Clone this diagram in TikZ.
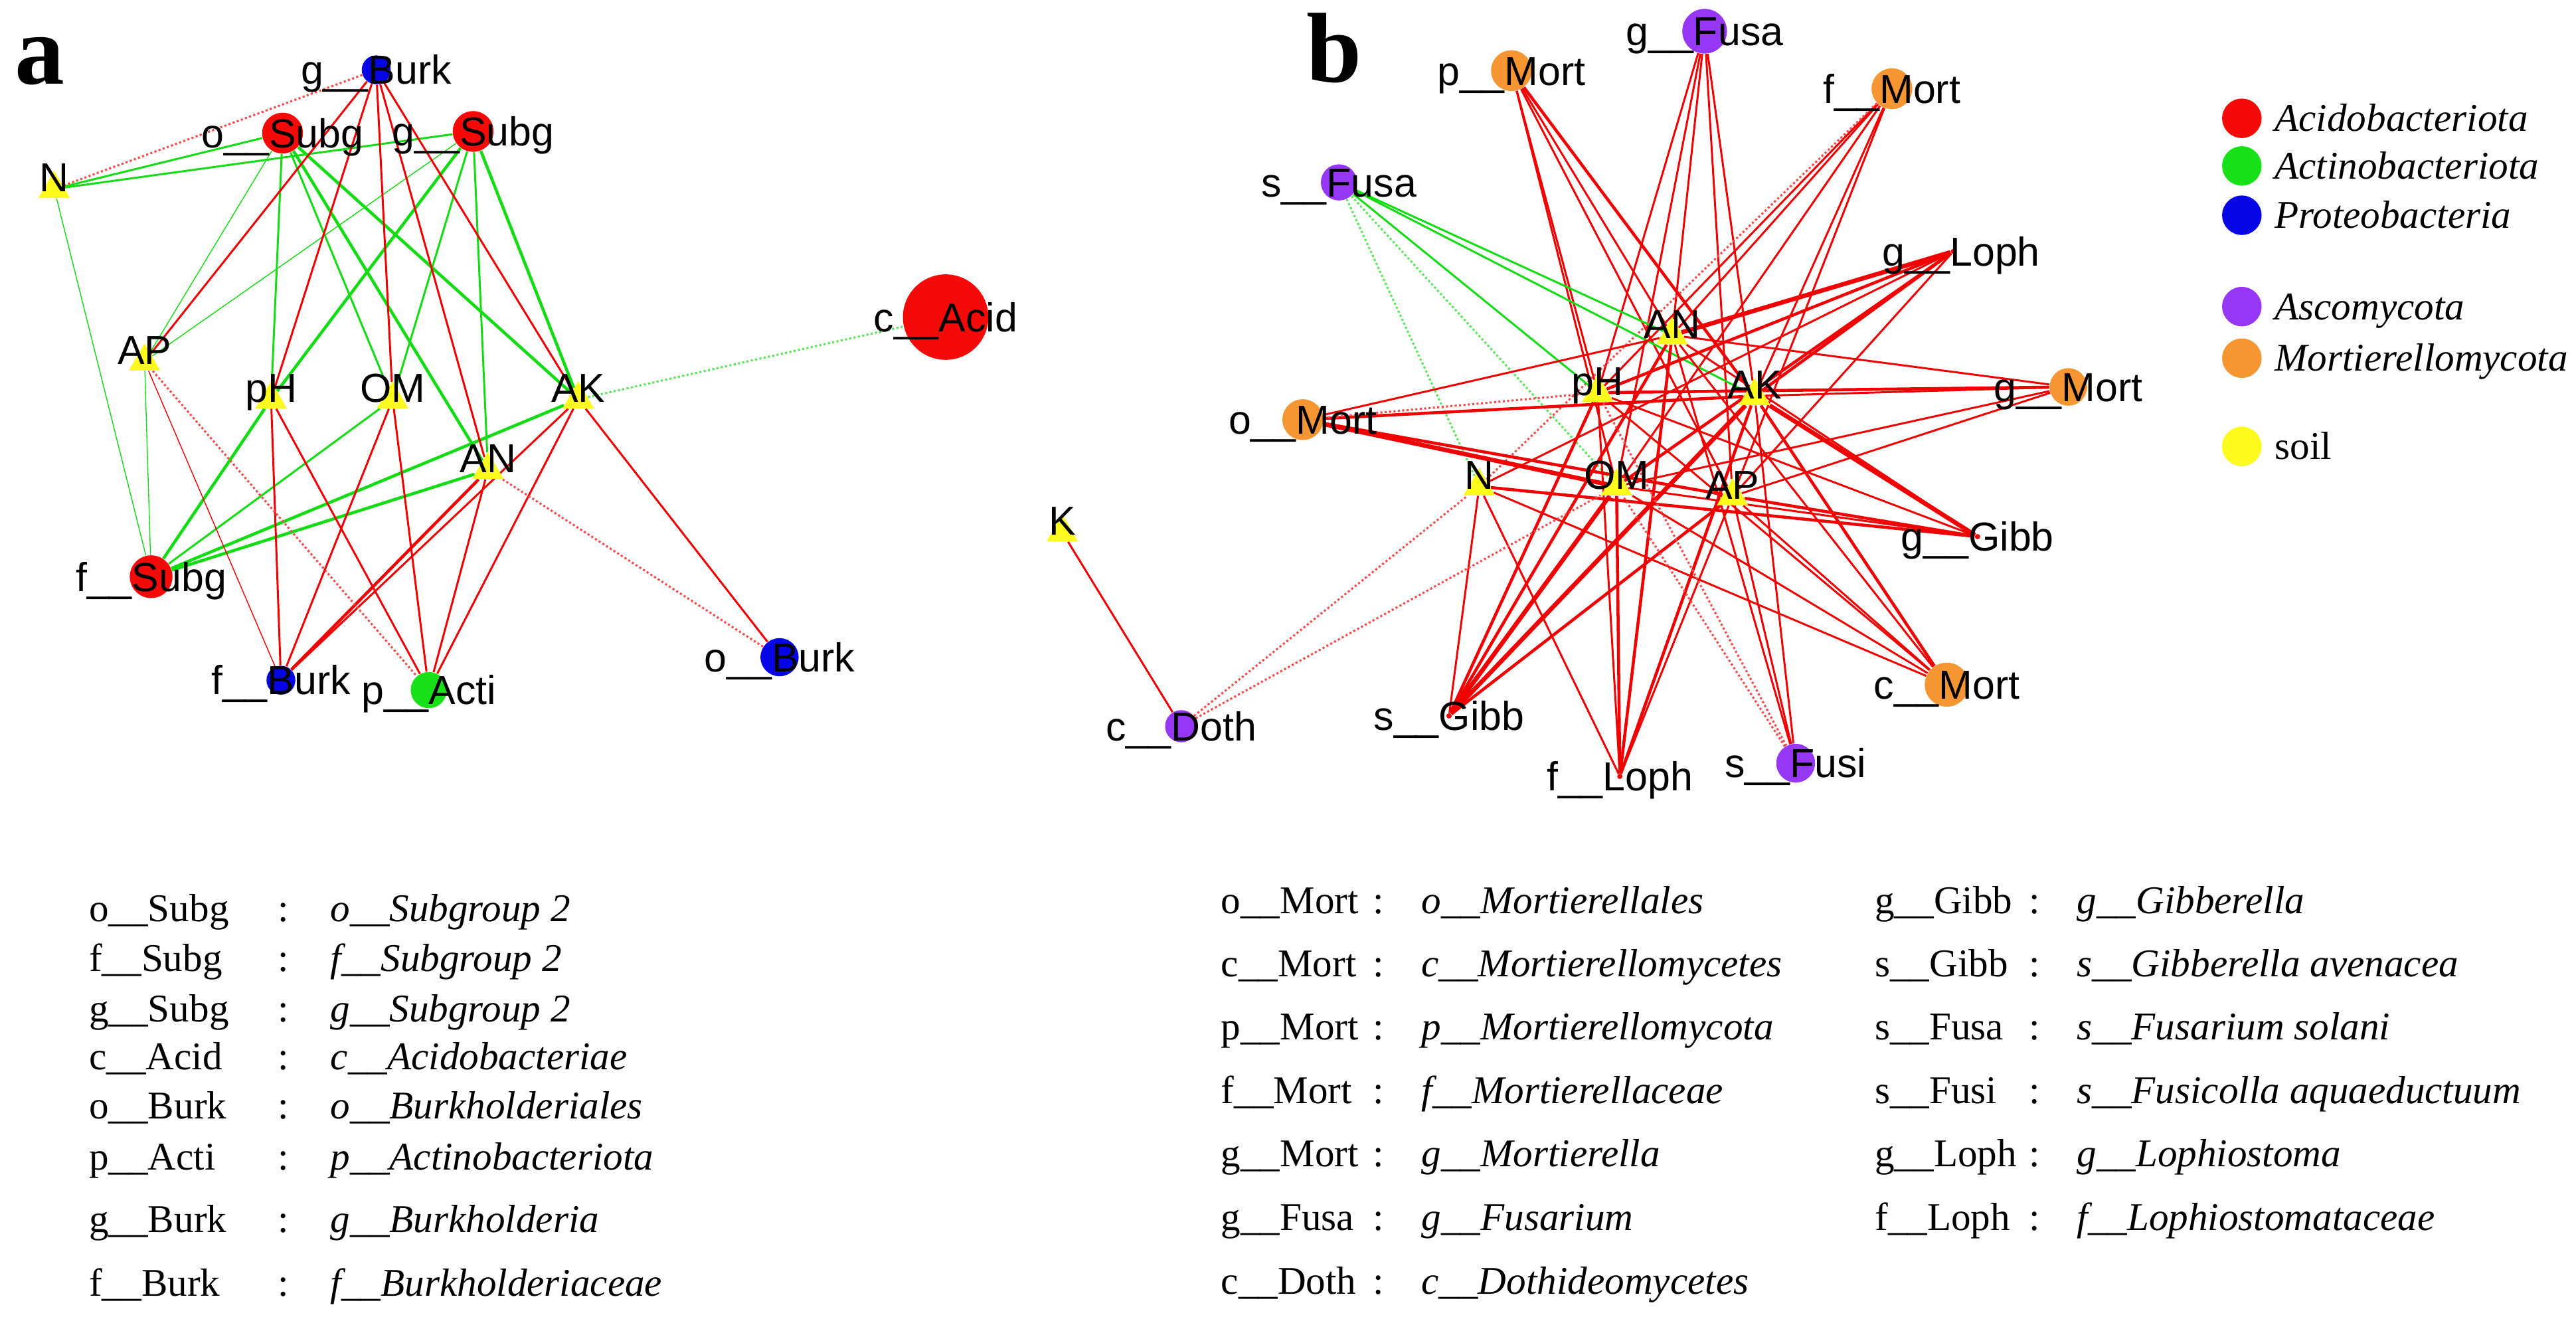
\documentclass[tikz,border=0pt]{standalone}
\usepackage{fontspec}
\setmainfont{Liberation Serif}
\setsansfont{Liberation Sans}
\usetikzlibrary{shapes.geometric}
\definecolor{acido}{RGB}{245,10,10}
\definecolor{actino}{RGB}{25,225,25}
\definecolor{proteo}{RGB}{5,5,230}
\definecolor{asco}{RGB}{150,55,245}
\definecolor{mortie}{RGB}{245,150,50}
\definecolor{soilyel}{RGB}{255,250,30}
\definecolor{edgered}{RGB}{240,0,0}
\definecolor{edgegreen}{RGB}{20,220,20}
\pgfdeclarelayer{bg}
\pgfsetlayers{bg,main}
\tikzstyle{lbl} = [font=\sffamily\fontsize{17.5}{17.5}\selectfont,
text height=12.5pt,
text depth=0pt,
inner sep=0pt]
\tikzstyle{taxon} = [circle, 
inner sep=0pt, 
draw=none]
\tikzstyle{tiny} = [circle, inner sep=0pt, minimum size=0.08cm, fill=edgered]
\tikzstyle{soilnode} = [regular polygon, 
regular polygon sides=3, 
inner sep=0pt, 
minimum size=0.55cm, 
fill=soilyel]
\tikzstyle{redlink} = [draw=edgered, line width=0.85pt]
\tikzstyle{greenlink} = [draw=edgegreen, line width=0.85pt]
\tikzstyle{reddot} = [draw=edgered!70, line width=0.9pt, densely dotted]
\tikzstyle{greendot} = [draw=edgegreen!70, line width=0.9pt, densely dotted]
\tikzstyle{heavy} = [line width=1.3pt]
\tikzstyle{heavier} = [line width=1.9pt]
\tikzstyle{keyname} = [anchor=base west, inner sep=0pt, font=\fontsize{17}{17}\selectfont]
\tikzstyle{keycolon} = [anchor=base, inner sep=0pt, font=\fontsize{17}{17}\selectfont]
\tikzstyle{keyfull} = [anchor=base west, inner sep=0pt, font=\itshape\fontsize{17}{17}\selectfont]
\tikzstyle{legdot} = [circle, inner sep=0pt, minimum size=0.6cm]
\tikzstyle{legtxt} = [anchor=west, inner sep=0pt, text height=11.3pt, text depth=0pt,
font=\itshape\fontsize{17}{17}\selectfont]
\tikzstyle{panel} = [anchor=base west, inner sep=0pt, font=\bfseries\fontsize{43}{43}\selectfont]

\begin{document}
\begin{tikzpicture} [x=0.025cm, y=-0.025cm]
		\useasboundingbox (0,0) rectangle (1568,804);
		\node (pa) [panel] at (9,51) {a};
		\node (pb) [panel] at (795,50) {b};

		% panel a
		\node (gBurk) [taxon, fill=proteo, minimum size=0.44cm, label={[lbl]center:g\_\_Burk}] at (229,42.5) {};
		\node (oSubg) [taxon, fill=acido, minimum size=0.62cm, label={[lbl]center:o\_\_Subg}] at (172,81) {};
		\node (gSubg) [taxon, fill=acido, minimum size=0.62cm, label={[lbl]center:g\_\_Subg}] at (288,80) {};
		\node (cAcid) [taxon, fill=acido, minimum size=1.3cm, label={[lbl]center:c\_\_Acid}] at (575.6,193) {};
		\node (fSubg) [taxon, fill=acido, minimum size=0.65cm, label={[lbl]center:f\_\_Subg}] at (92,351) {};
		\node (fBurk) [taxon, fill=proteo, minimum size=0.44cm, label={[lbl]center:f\_\_Burk}] at (171,414) {};
		\node (pActi) [taxon, fill=actino, minimum size=0.55cm, label={[lbl]center:p\_\_Acti}] at (261,420) {};
		\node (oBurk) [taxon, fill=proteo, minimum size=0.58cm, label={[lbl]center:o\_\_Burk}] at (474.5,400) {};
		\node (aN) [soilnode, label={[lbl, yshift=0.175cm]center:N}] at (33,115) {};
		\node (aAP) [soilnode, label={[lbl, yshift=0.175cm]center:AP}] at (88,220) {};
		\node (apH) [soilnode, label={[lbl, yshift=0.175cm]center:pH}] at (165,243) {};
		\node (aOM) [soilnode, label={[lbl, yshift=0.175cm]center:OM}] at (239,243) {};
		\node (aAK) [soilnode, label={[lbl, yshift=0.175cm]center:AK}] at (352,243) {};
		\node (aAN) [soilnode, label={[lbl, yshift=0.175cm]center:AN}] at (297,286) {};

		% panel b
		\node (gFusa) [taxon, fill=asco, minimum size=0.68cm, label={[lbl]center:g\_\_Fusa}] at (1037.6,19) {};
		\node (pMort) [taxon, fill=mortie, minimum size=0.62cm, label={[lbl]center:p\_\_Mort}] at (920,43) {};
		\node (fMort) [taxon, fill=mortie, minimum size=0.62cm, label={[lbl]center:f\_\_Mort}] at (1151.6,54) {};
		\node (sFusa) [taxon, fill=asco, minimum size=0.55cm, label={[lbl]center:s\_\_Fusa}] at (815,111) {};
		\node (gLoph) [tiny, label={[lbl, xshift=0.12cm]center:g\_\_Loph}] at (1189,153) {};
		\node (gMort) [taxon, fill=mortie, minimum size=0.57cm, label={[lbl]center:g\_\_Mort}] at (1259,235.5) {};
		\node (oMort) [taxon, fill=mortie, minimum size=0.62cm, label={[lbl]center:o\_\_Mort}] at (793,255.4) {};
		\node (gGibb) [tiny, label={[lbl]center:g\_\_Gibb}] at (1203.7,326.6) {};
		\node (cMort) [taxon, fill=mortie, minimum size=0.67cm, label={[lbl]center:c\_\_Mort}] at (1185,416.7) {};
		\node (sGibb) [tiny, label={[lbl]center:s\_\_Gibb}] at (882,435.7) {};
		\node (fLoph) [tiny, label={[lbl]center:f\_\_Loph}] at (986,472.5) {};
		\node (sFusi) [taxon, fill=asco, minimum size=0.59cm, label={[lbl]center:s\_\_Fusi}] at (1093,464.5) {};
		\node (cDoth) [taxon, fill=asco, minimum size=0.49cm, label={[lbl]center:c\_\_Doth}] at (719,442) {};
		\node (bAN) [soilnode, label={[lbl, yshift=0.175cm]center:AN}] at (1017.8,204) {};
		\node (bpH) [soilnode, label={[lbl, yshift=0.175cm]center:pH}] at (972.5,239) {};
		\node (bAK) [soilnode, label={[lbl, yshift=0.175cm]center:AK}] at (1068,241) {};
		\node (bN) [soilnode, label={[lbl, yshift=0.175cm]center:N}] at (900.4,296) {};
		\node (bOM) [soilnode, label={[lbl, yshift=0.175cm]center:OM}] at (984,296) {};
		\node (bAP) [soilnode, label={[lbl, yshift=0.175cm]center:AP}] at (1054.6,302) {};
		\node (bK) [soilnode, label={[lbl, yshift=0.175cm]center:K}] at (646.6,324) {};

		\begin{pgfonlayer}{bg}
		\draw [greenlink] (aN) -- (oSubg);
		\draw [greenlink] (aN) -- (gSubg);
		\draw [greenlink, thin] (aN) -- (fSubg);
		\draw [greenlink, thin] (oSubg) -- (aAP);
		\draw [greenlink] (oSubg) -- (apH);
		\draw [greenlink] (oSubg) -- (aOM);
		\draw [greenlink, heavy] (oSubg) -- (aAN);
		\draw [greenlink, heavy] (oSubg) -- (aAK);
		\draw [greenlink, thin] (gSubg) -- (aAP);
		\draw [greenlink, heavy] (gSubg) -- (apH);
		\draw [greenlink] (gSubg) -- (aOM);
		\draw [greenlink] (gSubg) -- (aAN);
		\draw [greenlink, heavy] (gSubg) -- (aAK);
		\draw [greenlink, thin] (fSubg) -- (aAP);
		\draw [greenlink, heavy] (fSubg) -- (apH);
		\draw [greenlink] (fSubg) -- (aOM);
		\draw [greenlink, heavy] (fSubg) -- (aAN);
		\draw [greenlink, heavy] (fSubg) -- (aAK);
		\draw [greendot] (aAK) -- (cAcid);
		\draw [redlink] (gBurk) -- (aAP);
		\draw [redlink] (gBurk) -- (apH);
		\draw [redlink] (gBurk) -- (aOM);
		\draw [redlink] (gBurk) -- (aAN);
		\draw [redlink] (gBurk) -- (aAK);
		\draw [redlink, thin] (fBurk) -- (aAP);
		\draw [redlink] (fBurk) -- (apH);
		\draw [redlink] (fBurk) -- (aOM);
		\draw [redlink, heavy] (fBurk) -- (aAN);
		\draw [redlink] (fBurk) -- (aAK);
		\draw [redlink] (pActi) -- (apH);
		\draw [redlink] (pActi) -- (aOM);
		\draw [redlink] (pActi) -- (aAN);
		\draw [redlink] (pActi) -- (aAK);
		\draw [redlink] (aAK) -- (oBurk);
		\draw [reddot] (gBurk) -- (aN);
		\draw [reddot] (aAN) -- (oBurk);
		\draw [reddot] (aAP) -- (pActi);

		\draw [redlink] (gFusa) -- (bAN);
		\draw [redlink] (gFusa) -- (bpH);
		\draw [redlink] (gFusa) -- (bAK);
		\draw [redlink] (gFusa) -- (bOM);
		\draw [redlink] (gFusa) -- (bAP);
		\draw [redlink] (pMort) -- (bpH);
		\draw [redlink] (pMort) -- (bAN);
		\draw [redlink] (pMort) -- (bOM);
		\draw [redlink, heavy] (pMort) -- (bAK);
		\draw [redlink] (pMort) -- (bAP);
		\draw [redlink] (fMort) -- (bAN);
		\draw [redlink] (fMort) -- (bpH);
		\draw [redlink] (fMort) -- (bAK);
		\draw [redlink] (fMort) -- (bOM);
		\draw [redlink] (fMort) -- (bAP);
		\draw [reddot] (fMort) -- (bN);
		\draw [greenlink] (sFusa) -- (bAN);
		\draw [greenlink] (sFusa) -- (bAK);
		\draw [greenlink] (sFusa) -- (bpH);
		\draw [greendot] (sFusa) -- (bN);
		\draw [greendot] (sFusa) -- (bOM);
		\draw [redlink] (oMort) -- (bAN);
		\draw [redlink, heavy] (oMort) -- (bAK);
		\draw [redlink, heavier] (oMort) -- (bOM);
		\draw [redlink, heavy] (oMort) -- (bAP);
		\draw [reddot] (oMort) -- (bpH);
		\draw [redlink, heavier] (gLoph) -- (bAN);
		\draw [redlink, heavy] (gLoph) -- (bpH);
		\draw [redlink, heavy] (gLoph) -- (bAK);
		\draw [redlink, heavy] (gLoph) -- (bOM);
		\draw [redlink] (gLoph) -- (bAP);
		\draw [redlink] (gLoph) -- (bN);
		\draw [redlink] (gMort) -- (bAN);
		\draw [redlink, heavy] (gMort) -- (bpH);
		\draw [redlink] (gMort) -- (bAK);
		\draw [redlink] (gMort) -- (bOM);
		\draw [redlink] (gMort) -- (bAP);
		\draw [redlink, heavy] (gGibb) -- (bN);
		\draw [redlink] (gGibb) -- (bOM);
		\draw [redlink, heavy] (gGibb) -- (bAP);
		\draw [redlink, heavier] (gGibb) -- (bAK);
		\draw [redlink] (gGibb) -- (bpH);
		\draw [redlink] (gGibb) -- (bAN);
		\draw [redlink] (cMort) -- (bN);
		\draw [redlink] (cMort) -- (bOM);
		\draw [redlink] (cMort) -- (bAP);
		\draw [redlink, heavy] (cMort) -- (bAK);
		\draw [redlink] (cMort) -- (bAN);
		\draw [redlink] (cMort) -- (bpH);
		\draw [redlink] (sGibb) -- (bN);
		\draw [redlink, heavy] (sGibb) -- (bpH);
		\draw [redlink, heavier] (sGibb) -- (bOM);
		\draw [redlink, heavy] (sGibb) -- (bAN);
		\draw [redlink, heavier] (sGibb) -- (bAK);
		\draw [redlink, heavy] (sGibb) -- (bAP);
		\draw [redlink] (fLoph) -- (bN);
		\draw [redlink] (fLoph) -- (bpH);
		\draw [redlink, heavy] (fLoph) -- (bOM);
		\draw [redlink, heavy] (fLoph) -- (bAN);
		\draw [redlink, heavy] (fLoph) -- (bAK);
		\draw [redlink] (fLoph) -- (bAP);
		\draw [redlink] (sFusi) -- (bAP);
		\draw [redlink] (sFusi) -- (bAK);
		\draw [redlink] (sFusi) -- (bAN);
		\draw [reddot] (sFusi) -- (bpH);
		\draw [reddot] (sFusi) -- (bOM);
		\draw [redlink] (bK) -- (cDoth);
		\draw [reddot] (cDoth) -- (bN);
		\draw [reddot] (cDoth) -- (bOM);
		\end{pgfonlayer}

		% legend
		\node (lg1) [legdot, fill=acido] at (1364.6,72) {};
		\node (lg2) [legdot, fill=actino] at (1364.6,101) {};
		\node (lg3) [legdot, fill=proteo] at (1364.6,131) {};
		\node (lg4) [legdot, fill=asco] at (1364.6,186.6) {};
		\node (lg5) [legdot, fill=mortie] at (1364.6,218) {};
		\node (lg6) [legdot, fill=soilyel] at (1364.6,271.7) {};
		\node (lt1) [legtxt] at (1384.4,72) {Acidobacteriota};
		\node (lt2) [legtxt] at (1384.4,101) {Actinobacteriota};
		\node (lt3) [legtxt] at (1384.4,131) {Proteobacteria};
		\node (lt4) [legtxt] at (1384.4,186.6) {Ascomycota};
		\node (lt5) [legtxt] at (1384.4,218) {Mortierellomycota};
		\node (lt6) [legtxt, font=\fontsize{17}{17}\selectfont] at (1384.4,271.7) {soil};

		% key a
		\node (ka1) [keyname] at (54,561) {o\_\_Subg};
		\node (ka2) [keyname] at (54,591) {f\_\_Subg};
		\node (ka3) [keyname] at (54,622) {g\_\_Subg};
		\node (ka4) [keyname] at (54,651) {c\_\_Acid};
		\node (ka5) [keyname] at (54,681) {o\_\_Burk};
		\node (ka6) [keyname] at (54,712) {p\_\_Acti};
		\node (ka7) [keyname] at (54,750) {g\_\_Burk};
		\node (ka8) [keyname] at (54,789) {f\_\_Burk};
		\node (ca1) [keycolon] at (172.5,561) {:};
		\node (ca2) [keycolon] at (172.5,591) {:};
		\node (ca3) [keycolon] at (172.5,622) {:};
		\node (ca4) [keycolon] at (172.5,651) {:};
		\node (ca5) [keycolon] at (172.5,681) {:};
		\node (ca6) [keycolon] at (172.5,712) {:};
		\node (ca7) [keycolon] at (172.5,750) {:};
		\node (ca8) [keycolon] at (172.5,789) {:};
		\node (fa1) [keyfull] at (201,561) {o\_\_Subgroup 2};
		\node (fa2) [keyfull] at (201,591) {f\_\_Subgroup 2};
		\node (fa3) [keyfull] at (201,622) {g\_\_Subgroup 2};
		\node (fa4) [keyfull] at (201,651) {c\_\_Acidobacteriae};
		\node (fa5) [keyfull] at (201,681) {o\_\_Burkholderiales};
		\node (fa6) [keyfull] at (201,712) {p\_\_Actinobacteriota};
		\node (fa7) [keyfull] at (201,750) {g\_\_Burkholderia};
		\node (fa8) [keyfull] at (201,789) {f\_\_Burkholderiaceae};

		% key b
		\node (kb1) [keyname] at (743,556) {o\_\_Mort};
		\node (kb2) [keyname] at (743,594.5) {c\_\_Mort};
		\node (kb3) [keyname] at (743,633) {p\_\_Mort};
		\node (kb4) [keyname] at (743,671.5) {f\_\_Mort};
		\node (kb5) [keyname] at (743,710) {g\_\_Mort};
		\node (kb6) [keyname] at (743,749) {g\_\_Fusa};
		\node (kb7) [keyname] at (743,787.5) {c\_\_Doth};
		\node (cb1) [keycolon] at (839,556) {:};
		\node (cb2) [keycolon] at (839,594.5) {:};
		\node (cb3) [keycolon] at (839,633) {:};
		\node (cb4) [keycolon] at (839,671.5) {:};
		\node (cb5) [keycolon] at (839,710) {:};
		\node (cb6) [keycolon] at (839,749) {:};
		\node (cb7) [keycolon] at (839,787.5) {:};
		\node (fb1) [keyfull] at (865,556) {o\_\_Mortierellales};
		\node (fb2) [keyfull] at (865,594.5) {c\_\_Mortierellomycetes};
		\node (fb3) [keyfull] at (865,633) {p\_\_Mortierellomycota};
		\node (fb4) [keyfull] at (865,671.5) {f\_\_Mortierellaceae};
		\node (fb5) [keyfull] at (865,710) {g\_\_Mortierella};
		\node (fb6) [keyfull] at (865,749) {g\_\_Fusarium};
		\node (fb7) [keyfull] at (865,787.5) {c\_\_Dothideomycetes};
		\node (kc1) [keyname] at (1141,556) {g\_\_Gibb};
		\node (kc2) [keyname] at (1141,594.5) {s\_\_Gibb};
		\node (kc3) [keyname] at (1141,633) {s\_\_Fusa};
		\node (kc4) [keyname] at (1141,671.5) {s\_\_Fusi};
		\node (kc5) [keyname] at (1141,710) {g\_\_Loph};
		\node (kc6) [keyname] at (1141,749) {f\_\_Loph};
		\node (cc1) [keycolon] at (1238.6,556) {:};
		\node (cc2) [keycolon] at (1238.6,594.5) {:};
		\node (cc3) [keycolon] at (1238.6,633) {:};
		\node (cc4) [keycolon] at (1238.6,671.5) {:};
		\node (cc5) [keycolon] at (1238.6,710) {:};
		\node (cc6) [keycolon] at (1238.6,749) {:};
		\node (fc1) [keyfull] at (1264,556) {g\_\_Gibberella};
		\node (fc2) [keyfull] at (1264,594.5) {s\_\_Gibberella avenacea};
		\node (fc3) [keyfull] at (1264,633) {s\_\_Fusarium solani};
		\node (fc4) [keyfull] at (1264,671.5) {s\_\_Fusicolla aquaeductuum};
		\node (fc5) [keyfull] at (1264,710) {g\_\_Lophiostoma};
		\node (fc6) [keyfull] at (1264,749) {f\_\_Lophiostomataceae};
	\end{tikzpicture}
\end{document}
